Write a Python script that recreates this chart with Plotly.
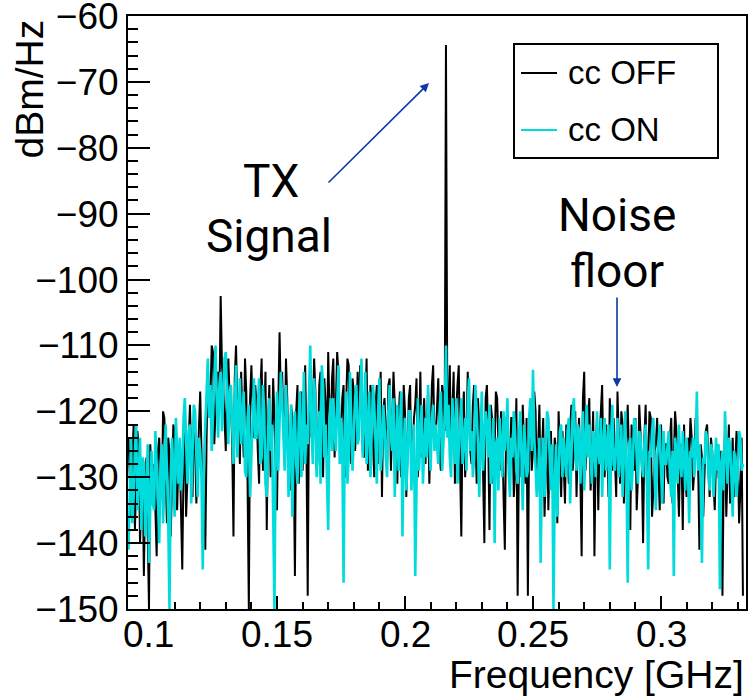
import numpy as np
import plotly.graph_objects as go

# ---------------- data ----------------
freq_start_ghz = 0.092
freq_step_ghz = 0.0005

cc_off = [
    -124, -130, -136, -127, -122, -138, -131, -123, -126, -140, -134, -128, -145, -132, -127, -137, -150, -125, -129, -133,
    -128, -135, -142, -126, -124, -130, -133, -120, -121, -129, -137, -124, -126, -139, -131, -122, -123, -132, -135, -127,
    -126, -133, -144, -128, -123, -136, -130, -122, -119, -127, -133, -121, -125, -134, -128, -120, -117, -126, -135, -129,
    -141, -124, -113, -120, -118, -110, -111, -125, -121, -115, -114, -119, -102.5, -113, -116, -122, -126, -114, -112, -118,
    -118, -125, -139, -115, -110, -119, -122, -128, -114, -121, -127, -112, -117, -131, -150, -118, -113, -120, -124, -116,
    -119, -126, -131, -117, -112, -129, -123, -114, -138, -122, -116, -130, -126, -115, -121, -128, -135, -119, -108, -118,
    -114, -122, -127, -112, -118, -128, -132, -119, -121, -126, -145, -120, -116, -131, -124, -117, -129, -121, -113, -125,
    -148, -118, -113, -124, -121, -112, -117, -129, -126, -116, -114, -122, -130, -115, -119, -127, -111, -120, -123, -115,
    -112, -127, -120, -111, -114, -123, -125, -118, -116, -130, -119, -112, -113, -124, -128, -115, -117, -126, -122, -114,
    -121, -113, -115, -126, -127, -118, -112, -129, -124, -116, -118, -125, -130, -119, -116, -128, -122, -114, -133, -120,
    -118, -124, -128, -116, -115, -129, -123, -114, -119, -127, -131, -121, -117, -130, -125, -116, -120, -133, -127, -118,
    -116, -129, -126, -121, -119, -115, -130, -124, -114, -127, -123, -118, -128, -122, -117, -131, -121, -116, -113, -125,
    -124, -119, -115, -126, -129, -116, -118, -123, -64.4, -117, -121, -113, -127, -120, -114, -131, -120, -116, -113, -128,
    -139, -121, -117, -130, -125, -114, -120, -126, -128, -119, -116, -124, -131, -118, -122, -127, -119, -132, -140, -118,
    -116, -124, -138, -119, -121, -131, -126, -117, -118, -125, -129, -120, -123, -133, -141, -122, -120, -128, -127, -121,
    -121, -133, -129, -118, -148, -127, -124, -130, -119, -125, -131, -121, -148, -123, -122, -129, -126, -117, -120, -132,
    -125, -119, -132, -127, -121, -136, -128, -122, -135, -126, -123, -131, -130, -124, -126, -137, -120, -128, -133, -123,
    -128, -134, -122, -127, -131, -123, -119, -129, -126, -120, -133, -125, -121, -130, -142, -118, -114, -129, -124, -121,
    -118, -132, -127, -120, -142, -126, -121, -135, -124, -119, -116, -128, -130, -122, -125, -133, -118, -124, -129, -121,
    -126, -133, -117, -125, -131, -120, -122, -134, -128, -123, -119, -127, -138, -122, -124, -129, -121, -135, -130, -119,
    -123, -128, -140, -124, -119, -131, -127, -120, -121, -136, -132, -126, -125, -121, -129, -135, -122, -127, -134, -125,
    -125, -130, -131, -124, -121, -134, -128, -120, -123, -129, -136, -125, -126, -138, -122, -130, -133, -124, -127, -121,
    -124, -132, -129, -121, -123, -128, -141, -125, -127, -136, -130, -123, -122, -129, -133, -124, -126, -131, -135, -127,
    -125, -130, -131, -126, -148, -129, -123, -136, -128, -122, -134, -127, -124, -133, -129, -123, -126, -137, -132, -124, -148,
]

cc_on = [
    -141, -129, -124, -137, -133, -126, -122, -135, -130, -124, -138, -127, -128, -139, -132, -125, -143, -131, -126, -134,
    -135, -123, -127, -133, -140, -128, -125, -137, -131, -122, -129, -136, -150, -130, -124, -132, -136, -121, -126, -131,
    -124, -132, -129, -121, -118, -126, -131, -123, -122, -134, -127, -119, -120, -128, -133, -124, -126, -130, -144, -127,
    -122, -115, -112, -121, -116, -126, -120, -113, -110, -119, -124, -116, -114, -123, -118, -112, -111, -120, -125, -117,
    -116, -122, -128, -119, -113, -127, -121, -115, -125, -120, -117, -129, -130, -121, -119, -133, -126, -118, -115, -124,
    -124, -119, -115, -128, -127, -116, -120, -131, -133, -123, -118, -126, -122, -135, -150, -124, -117, -129, -121, -114,
    -118, -125, -129, -116, -122, -133, -126, -119, -136, -124, -120, -128, -131, -121, -117, -130, -125, -114, -128, -122,
    -125, -117, -110, -123, -128, -115, -119, -130, -124, -120, -131, -113, -116, -127, -122, -129, -138, -121, -118, -126,
    -118, -123, -126, -119, -113, -128, -121, -125, -146, -122, -117, -131, -127, -114, -120, -129, -124, -118, -116, -125,
    -124, -118, -112, -127, -120, -114, -128, -121, -117, -130, -123, -116, -119, -125, -131, -120, -115, -129, -126, -119,
    -122, -127, -130, -120, -116, -124, -126, -118, -133, -125, -119, -129, -124, -117, -139, -126, -121, -132, -128, -120,
    -120, -132, -127, -122, -145, -126, -118, -129, -125, -119, -131, -124, -121, -127, -116, -123, -129, -121, -119, -126,
    -122, -125, -128, -120, -117, -129, -125, -121, -110, -124, -119, -127, -130, -118, -123, -128, -118, -131, -126, -122,
    -118, -128, -124, -121, -129, -119, -115, -126, -123, -130, -127, -116, -120, -125, -133, -122, -117, -129, -125, -120,
    -122, -127, -119, -131, -128, -121, -140, -125, -124, -132, -121, -127, -130, -120, -126, -123, -118, -129, -133, -124,
    -127, -120, -123, -129, -131, -124, -120, -127, -135, -122, -125, -130, -129, -121, -118, -126, -113.7, -124, -128, -133,
    -130, -124, -143, -128, -124, -133, -127, -120, -121, -127, -132, -125, -150, -131, -125, -136, -129, -123, -122, -130,
    -124, -128, -130, -123, -121, -134, -127, -120, -118, -126, -129, -122, -123, -131, -126, -120, -132, -125, -119, -127,
    -122, -127, -131, -123, -125, -130, -120, -126, -128, -121, -133, -125, -121, -129, -126, -122, -144, -124, -119, -128,
    -129, -124, -121, -130, -126, -122, -133, -127, -120, -129, -146, -125, -124, -132, -128, -121, -122, -127, -131, -123,
    -124, -128, -130, -125, -122, -131, -144, -126, -127, -123, -121, -130, -135, -127, -125, -122, -129, -134, -123, -128,
    -128, -125, -123, -130, -133, -126, -145, -124, -126, -131, -122, -128, -130, -123, -127, -132, -124, -128, -137, -126,
    -127, -124, -130, -126, -117, -129, -125, -131, -143, -127, -128, -123, -124, -130, -132, -125, -126, -133, -129, -124,
    -129, -125, -147, -128, -126, -132, -120, -127, -131, -124, -125, -130, -136, -126, -127, -133, -130, -123, -124, -129, -128,
]

series_names = ["cc OFF", "cc ON"]
series_colors = ["#000000", "#00dcdc"]

x_tick_vals = [0.1, 0.15, 0.2, 0.25, 0.3]
x_tick_text = ["0.1", "0.15", "0.2", "0.25", "0.3"]
y_tick_vals = [-60, -70, -80, -90, -100, -110, -120, -130, -140, -150]
y_tick_text = ["\u221260", "\u221270", "\u221280", "\u221290", "\u2212100",
               "\u2212110", "\u2212120", "\u2212130", "\u2212140", "\u2212150"]

x_title = "Frequency [GHz]"
y_title = "dBm/Hz"

# ---------------- layout geometry ----------------
W, H = 755, 697
ML, MR, MT, MB = 128, 9, 16, 88
PW, PH = W - ML - MR, H - MT - MB
X0, X1 = 0.0918, 0.3332
Y0, Y1 = -150, -60


def px_x(px):
    return X0 + (px - ML) / PW * (X1 - X0)


def px_y(py):
    return Y1 - (py - MT) / PH * (Y1 - Y0)


def paper_x(px):
    return (px - ML) / PW


def paper_y(py):
    return 1 - (py - MT) / PH


freq = freq_start_ghz + freq_step_ghz * np.arange(len(cc_off))

fig = go.Figure()
for name, vals, col, w in [(series_names[0], cc_off, series_colors[0], 2.0),
                           (series_names[1], cc_on, series_colors[1], 2.6)]:
    fig.add_trace(go.Scatter(x=freq, y=vals, mode="lines", name=name,
                             line=dict(color=col, width=w), showlegend=False))

FONT_FAMILY = "Liberation Sans, Arial, sans-serif"
TICK_FONT = dict(family=FONT_FAMILY, size=37, color="black")

fig.update_layout(
    width=W, height=H,
    margin=dict(l=ML, r=MR, t=MT, b=MB, pad=0),
    paper_bgcolor="white", plot_bgcolor="white",
    font=TICK_FONT,
    xaxis=dict(range=[X0, X1], showgrid=False, zeroline=False, automargin=False,
               showline=True, linecolor="black", linewidth=2, mirror=True,
               ticks="inside", ticklen=13, tickwidth=2, tickcolor="black",
               tickvals=x_tick_vals, ticktext=x_tick_text, showticklabels=False,
               minor=dict(ticks="inside", ticklen=7, tickwidth=2, tickcolor="black",
                          dtick=0.01, tick0=0.1, showgrid=False)),
    yaxis=dict(range=[Y0, Y1], showgrid=False, zeroline=False, automargin=False,
               showline=True, linecolor="black", linewidth=2, mirror=True,
               ticks="inside", ticklen=22, tickwidth=2, tickcolor="black",
               tickvals=y_tick_vals, ticktext=y_tick_text, tickfont=TICK_FONT,
               ticklabeloverflow="allow", ticklabelstandoff=0,
               minor=dict(ticks="inside", ticklen=10, tickwidth=2, tickcolor="black",
                          dtick=2, tick0=-150, showgrid=False)),
)

ann = []
# x tick labels (placed below the axis at each tick value)
for v, t in zip(x_tick_vals, x_tick_text):
    ann.append(dict(text=t, xref="x", yref="paper", x=v, y=paper_y(634),
                    xanchor="center", yanchor="middle", showarrow=False, font=TICK_FONT))
# axis titles
ann.append(dict(text=x_title, xref="paper", yref="paper", x=1.0, y=paper_y(674),
                xanchor="right", yanchor="middle", showarrow=False,
                font=dict(family=FONT_FAMILY, size=39, color="black")))
ann.append(dict(text=y_title, xref="paper", yref="paper", x=paper_x(29), y=paper_y(17),
                xanchor="center", yanchor="top", textangle=-90, showarrow=False,
                font=dict(family=FONT_FAMILY, size=39, color="black")))

# text labels
LBL_FONT = dict(family="Roboto, sans-serif", size=46, color="black")
for txt, cx, cy in [("TX", 271, 181), ("Signal", 269, 236),
                    ("Noise", 617, 215), ("floor", 617, 271)]:
    ann.append(dict(text=txt, xref="x", yref="y", x=px_x(cx), y=px_y(cy),
                    xanchor="center", yanchor="middle", showarrow=False, font=LBL_FONT))

# arrows
ARROW_COL = "#0b3aa6"
for (hx, hy), (tx, ty) in [((429, 83), (327, 184)), ((617, 387), (617, 296))]:
    ann.append(dict(text="", x=px_x(hx), y=px_y(hy), xref="x", yref="y",
                    ax=px_x(tx), ay=px_y(ty), axref="x", ayref="y",
                    showarrow=True, arrowhead=2, arrowsize=1.1, arrowwidth=1.6,
                    arrowcolor=ARROW_COL, standoff=0, startstandoff=0))

# legend (drawn box)
LEG_FONT = dict(family=FONT_FAMILY, size=33, color="black")
shapes = [dict(type="rect", xref="paper", yref="paper",
               x0=paper_x(514), x1=paper_x(718), y0=paper_y(158), y1=paper_y(44),
               line=dict(color="black", width=2), fillcolor="white", layer="above")]
for (name, col), ry in zip(zip(series_names, series_colors), [73, 130]):
    shapes.append(dict(type="line", xref="paper", yref="paper",
                       x0=paper_x(521), x1=paper_x(557), y0=paper_y(ry), y1=paper_y(ry),
                       line=dict(color=col, width=2), layer="above"))
    ann.append(dict(text=name, xref="paper", yref="paper", x=paper_x(566), y=paper_y(ry),
                    xanchor="left", yanchor="middle", showarrow=False, font=LEG_FONT))

fig.update_layout(annotations=ann, shapes=shapes)
fig.write_html("out.html", config={"displayModeBar": False},
               post_script="document.body.style.margin='0px';document.body.style.overflow='hidden';")
